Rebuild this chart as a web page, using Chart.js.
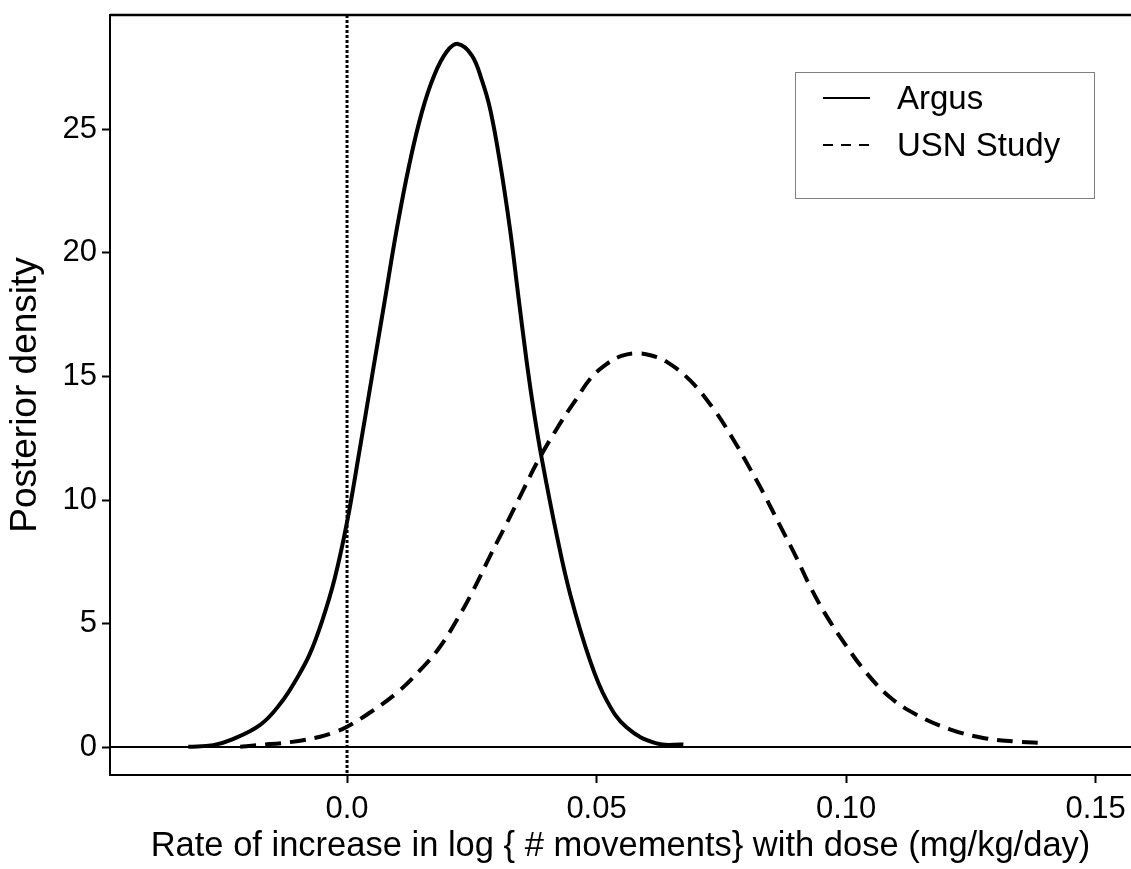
<!DOCTYPE html>
<html>
<head>
<meta charset="utf-8">
<script src="https://cdn.jsdelivr.net/npm/chart.js@4"></script>
<style>
  html, body { margin: 0; padding: 0; background: #fff; }
  #densityChart { display: block; }
</style>
</head>
<body>
<canvas id="densityChart" width="1131" height="869"></canvas>
<script>
const argusX = [-0.0318, -0.0268, -0.0234, -0.0174, -0.0134, -0.0100, -0.0075, -0.0050, -0.0025, 0.0,
  0.0025, 0.0050, 0.0075, 0.0100, 0.0125, 0.0150, 0.0175, 0.0200, 0.0222,
  0.0250, 0.0270, 0.0287, 0.0307, 0.0327, 0.0343, 0.0360, 0.0375, 0.0390, 0.0420,
  0.0447, 0.0487, 0.0520, 0.0560, 0.0620, 0.0674];
const argusY = [0.01, 0.08, 0.28, 0.9, 1.75, 2.8, 3.75, 5.1, 6.8, 9.1,
  12.0, 15.0, 18.0, 21.0, 23.6, 25.7, 27.2, 28.15, 28.46,
  28.0, 27.0, 25.8, 23.6, 20.9, 18.3, 15.6, 13.5, 11.7, 8.6,
  6.2, 3.5, 1.9, 0.8, 0.15, 0.1];

const usnX = [-0.0214, -0.0181, -0.0114, -0.0054, -0.0025, 0.0, 0.0046, 0.0100, 0.0146, 0.0186,
  0.0220, 0.0253, 0.0287, 0.0320, 0.0353, 0.0383, 0.0427, 0.0460, 0.0487, 0.0520, 0.0550,
  0.0580, 0.0610, 0.0640, 0.0687, 0.0734, 0.0774, 0.0808, 0.0834, 0.0868, 0.0901, 0.0928,
  0.0961, 0.1001, 0.1041, 0.1088, 0.1142, 0.1208, 0.1275, 0.1342, 0.1395];
const usnY = [0.01, 0.08, 0.2, 0.42, 0.6, 0.82, 1.4, 2.2, 3.1, 4.05,
  5.14, 6.35, 7.75, 9.06, 10.4, 11.6, 13.1, 14.1, 14.9, 15.5, 15.83,
  15.94, 15.85, 15.6, 14.85, 13.7, 12.45, 11.25, 10.3, 8.95, 7.65, 6.5,
  5.3, 4.08, 3.0, 2.02, 1.3, 0.72, 0.37, 0.22, 0.17];

const seriesNames = ['Argus', 'USN Study'];

const xTicks = [0, 0.05, 0.10, 0.15];
const xTickLabels = ['0.0', '0.05', '0.10', '0.15'];
const yTicks = [0, 5, 10, 15, 20, 25];

const FONT = '"Liberation Sans", Arial, Helvetica, sans-serif';

const toPoints = (xs, ys) => xs.map((x, i) => ({ x, y: ys[i] }));

/**
 * Frame, zero line and dotted reference at x = 0, plus the boxed legend
 */
const framePlugin = {
  id: 'frame',
  beforeDatasetsDraw(chart) {
    const { ctx, chartArea, scales } = chart;
    const x0 = scales.x.getPixelForValue(0);
    const y0 = scales.y.getPixelForValue(0);

    ctx.save();
    ctx.strokeStyle = '#000';

    // top border
    ctx.lineWidth = 2.5;
    ctx.beginPath();
    ctx.moveTo(chartArea.left, chartArea.top);
    ctx.lineTo(chartArea.right, chartArea.top);
    ctx.stroke();

    // zero density line
    ctx.lineWidth = 2;
    ctx.beginPath();
    ctx.moveTo(chartArea.left, y0);
    ctx.lineTo(chartArea.right, y0);
    ctx.stroke();

    // dotted line at no effect
    ctx.lineWidth = 3;
    ctx.setLineDash([3, 2]);
    ctx.beginPath();
    ctx.moveTo(x0, chartArea.top);
    ctx.lineTo(x0, chartArea.bottom);
    ctx.stroke();
    ctx.restore();
  },
  afterDatasetsDraw(chart) {
    const { ctx, chartArea } = chart;
    const boxW = 299, boxH = 126;
    const left = chartArea.right - 37 - boxW;
    const top = chartArea.top + 57;

    ctx.save();
    ctx.fillStyle = '#fff';
    ctx.fillRect(left, top, boxW, boxH);
    ctx.strokeStyle = '#808080';
    ctx.lineWidth = 1;
    ctx.strokeRect(left + 0.5, top + 0.5, boxW, boxH);

    ctx.font = '33px ' + FONT;
    ctx.textBaseline = 'middle';
    ctx.fillStyle = '#000';
    chart.data.datasets.forEach((ds, i) => {
      const y = top + 26 + i * 47;
      ctx.strokeStyle = '#000';
      ctx.lineWidth = 2;
      ctx.setLineDash(ds.borderDash && ds.borderDash.length ? [10, 8] : []);
      ctx.beginPath();
      ctx.moveTo(left + 28, y);
      ctx.lineTo(left + 75, y);
      ctx.stroke();
      ctx.fillText(ds.label, left + 102, y + 2);
    });
    ctx.restore();
  }
};

new Chart(document.getElementById('densityChart'), {
  type: 'line',
  data: {
    datasets: [
      {
        label: seriesNames[0],
        data: toPoints(argusX, argusY),
        borderColor: '#000',
        borderWidth: 4,
        borderDash: [],
        pointRadius: 0,
        tension: 0.4,
        fill: false
      },
      {
        label: seriesNames[1],
        data: toPoints(usnX, usnY),
        borderColor: '#000',
        borderWidth: 4,
        borderDash: [16, 9],
        pointRadius: 0,
        tension: 0.4,
        fill: false
      }
    ]
  },
  options: {
    responsive: false,
    animation: false,
    devicePixelRatio: 1,
    layout: { padding: { top: 15, right: 0, left: 0, bottom: 0 } },
    plugins: {
      legend: { display: false },
      tooltip: { enabled: false }
    },
    scales: {
      x: {
        type: 'linear',
        min: -0.0475,
        max: 0.1571,
        afterBuildTicks: scale => { scale.ticks = xTicks.map(value => ({ value })); },
        afterFit: scale => {
          scale.height = 94;
          scale.paddingLeft = 0;
          scale.paddingRight = 0;
        },
        ticks: {
          color: '#000',
          font: { family: FONT, size: 31 },
          padding: 8,
          maxRotation: 0,
          autoSkip: false,
          callback: (value, index) => xTickLabels[index]
        },
        grid: {
          drawOnChartArea: false,
          tickLength: 8,
          tickWidth: 2,
          tickColor: '#000'
        },
        border: { display: true, color: '#000', width: 2 },
        title: {
          display: true,
          text: 'Rate of increase in log { # movements} with dose (mg/kg/day)',
          color: '#000',
          font: { family: FONT, size: 34.5 },
          padding: { top: 0, bottom: 2 }
        }
      },
      y: {
        type: 'linear',
        min: -1.13,
        max: 29.63,
        afterBuildTicks: scale => { scale.ticks = yTicks.map(value => ({ value })); },
        afterFit: scale => {
          scale.width = 110;
          scale.paddingTop = 0;
          scale.paddingBottom = 0;
        },
        ticks: {
          color: '#000',
          font: { family: FONT, size: 31 },
          padding: 5,
          autoSkip: false,
          callback: value => String(value)
        },
        grid: {
          drawOnChartArea: false,
          tickLength: 8,
          tickWidth: 2,
          tickColor: '#000'
        },
        border: { display: true, color: '#000', width: 2 },
        title: {
          display: true,
          text: 'Posterior density',
          color: '#000',
          font: { family: FONT, size: 37 },
          padding: { top: 4, bottom: 0 }
        }
      }
    }
  },
  plugins: [framePlugin]
});
</script>
</body>
</html>
